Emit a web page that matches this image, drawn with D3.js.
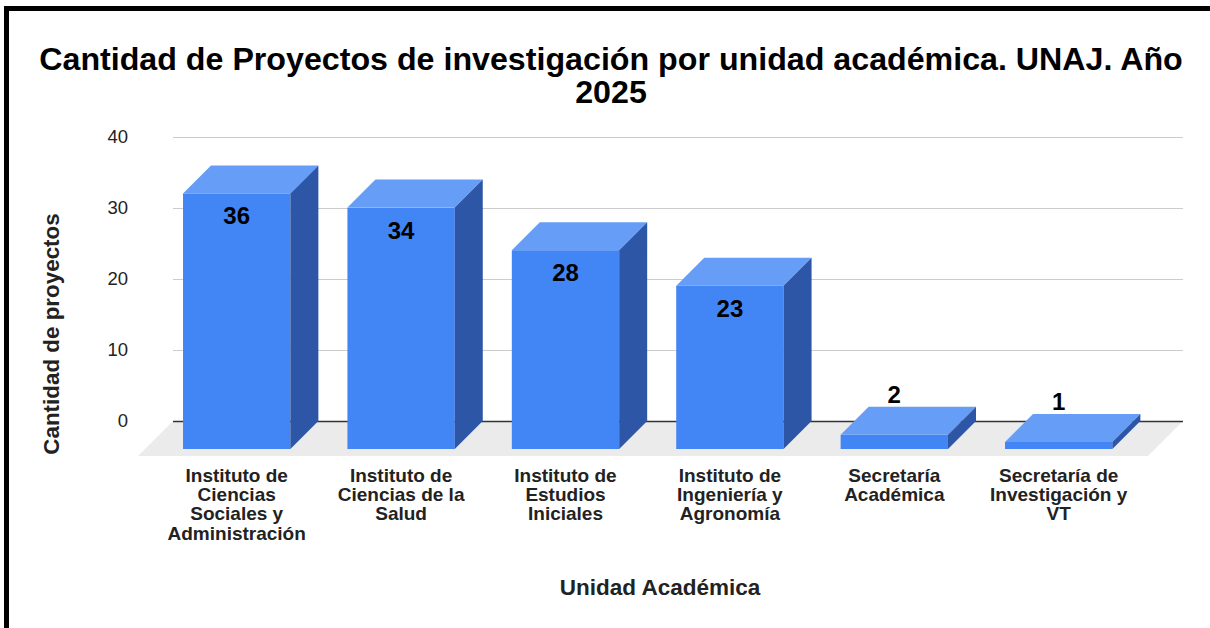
<!DOCTYPE html>
<html>
<head>
<meta charset="utf-8">
<script src="https://cdn.jsdelivr.net/npm/d3@7"></script>
<style>
  body { margin: 0; background: #fff; }
  text { font-family: "Liberation Sans", Arial, sans-serif; }
</style>
</head>
<body>
<script>
// data
var categories = [
  "Instituto de Ciencias Sociales y Administración",
  "Instituto de Ciencias de la Salud",
  "Instituto de Estudios Iniciales",
  "Instituto de Ingeniería y Agronomía",
  "Secretaría Académica",
  "Secretaría de Investigación y VT"
];
var proyectos = [36, 34, 28, 23, 2, 1];
var yTicks = [0, 10, 20, 30, 40];
var titleLines = ["Cantidad de Proyectos de investigación por unidad académica. UNAJ. Año", "2025"];

var W = 1210, H = 628;
var depth = 28;      // bar depth offset
var floorDepth = 35; // floor depth offset
var gridLeft = 173, gridRight = 1183;

var svg = d3.select("body")
   .append("svg")
   .attr("width", W)
   .attr("height", H);

svg.append("rect").attr("width", W).attr("height", H).attr("fill", "#fff");

// border (top and left visible)
svg.append("line").attr("x1", 4).attr("x2", W).attr("y1", 8.5).attr("y2", 8.5)
   .attr("stroke", "#000").attr("stroke-width", 5);
svg.append("line").attr("x1", 6.5).attr("x2", 6.5).attr("y1", 6).attr("y2", H)
   .attr("stroke", "#000").attr("stroke-width", 5);

// back plane scale (gridlines), front plane is shifted by depth
var yScale = d3.scaleLinear()
   .domain([0, 40])
   .range([421, 137]);
function yFront(v){ return yScale(v) + depth; }

var xScale = d3.scaleBand()
   .domain(categories)
   .range([154.5, 1140.9])
   .paddingInner(0.347)
   .paddingOuter(0.1735);

// title
svg.append("g").selectAll("text")
   .data(titleLines)
   .enter()
   .append("text")
   .attr("x", 611)
   .attr("y", function(d, i){ return 70 + i * 33; })
   .attr("text-anchor", "middle")
   .attr("font-size", "32.2px")
   .attr("font-weight", "bold")
   .attr("fill", "#000")
   .text(function(d){ return d; });

// floor
var y0 = yScale(0);
svg.append("polygon")
   .attr("points", [
      [gridLeft, y0], [gridRight, y0],
      [gridRight - floorDepth, y0 + floorDepth], [gridLeft - floorDepth, y0 + floorDepth]
   ].join(" "))
   .attr("fill", "#ebebeb");

// axis + gridlines
var yAxis = d3.axisLeft(yScale)
   .tickValues(yTicks)
   .tickSize(-(gridRight - gridLeft))
   .tickPadding(45)
   .tickFormat(d3.format("d"));

var ax = svg.append("g")
   .attr("transform", "translate(" + gridLeft + ",0)")
   .call(yAxis);
ax.select(".domain").remove();
ax.selectAll(".tick line")
   .attr("stroke", function(d){ return d === 0 ? "#333" : "#ccc"; })
   .attr("stroke-width", function(d){ return d === 0 ? 1.5 : 1; });
ax.selectAll(".tick text")
   .attr("font-size", "18.5px")
   .attr("fill", "#222")
   .style("font-family", '"Liberation Sans", Arial, sans-serif');

// bars
var bw = xScale.bandwidth();
var bars = svg.append("g").selectAll("g")
   .data(proyectos)
   .enter()
   .append("g");

bars.append("rect")
   .attr("x", function(d, i){ return xScale(categories[i]); })
   .attr("y", function(d){ return yFront(d); })
   .attr("width", bw)
   .attr("height", function(d){ return yFront(0) - yFront(d); })
   .attr("fill", "#4285f4");

bars.append("polygon")
   .attr("points", function(d, i){
      var x = xScale(categories[i]), y = yFront(d);
      return [[x, y], [x + depth, y - depth], [x + bw + depth, y - depth], [x + bw, y]].join(" ");
   })
   .attr("fill", "#669df6");

bars.append("polygon")
   .attr("points", function(d, i){
      var x = xScale(categories[i]) + bw, y = yFront(d), yb = yFront(0);
      return [[x, y], [x + depth, y - depth], [x + depth, yb - depth], [x, yb]].join(" ");
   })
   .attr("fill", "#2d56a6");

// value labels
bars.append("text")
   .attr("x", function(d, i){ return xScale(categories[i]) + bw / 2; })
   .attr("y", function(d){
      return (yFront(0) - yFront(d)) > 60 ? yFront(d) + 31 : yScale(d) - 4;
   })
   .attr("text-anchor", "middle")
   .attr("font-size", "24px")
   .attr("font-weight", "bold")
   .attr("fill", "#000")
   .text(function(d){ return d; });

// category labels, wrapped
function wrap(textSel, maxWidth){
   textSel.each(function(d){
      var t = d3.select(this);
      var words = d.split(" ");
      var lines = [], line = [];
      var tmp = t.append("tspan");
      words.forEach(function(w){
         line.push(w);
         tmp.text(line.join(" "));
         if (tmp.node().getComputedTextLength() > maxWidth && line.length > 1){
            line.pop();
            lines.push(line.join(" "));
            line = [w];
         }
      });
      lines.push(line.join(" "));
      tmp.remove();
      lines.forEach(function(l, k){
         t.append("tspan")
          .attr("x", t.attr("x"))
          .attr("dy", k === 0 ? 0 : 19.2)
          .text(l);
      });
   });
}

svg.append("g").selectAll("text")
   .data(categories)
   .enter()
   .append("text")
   .attr("x", function(d){ return xScale(d) + bw / 2; })
   .attr("y", 482)
   .attr("text-anchor", "middle")
   .attr("font-size", "19px")
   .attr("font-weight", "bold")
   .attr("fill", "#222")
   .call(wrap, 148);

// axis titles
svg.append("text")
   .text("Unidad Académica")
   .attr("x", 660)
   .attr("y", 595)
   .attr("text-anchor", "middle")
   .attr("font-size", "22.5px")
   .attr("font-weight", "bold")
   .attr("fill", "#222");

svg.append("text")
   .text("Cantidad de proyectos")
   .attr("transform", "translate(59,334) rotate(-90)")
   .attr("text-anchor", "middle")
   .attr("font-size", "22.4px")
   .attr("font-weight", "bold")
   .attr("fill", "#222");
</script>
</body>
</html>
